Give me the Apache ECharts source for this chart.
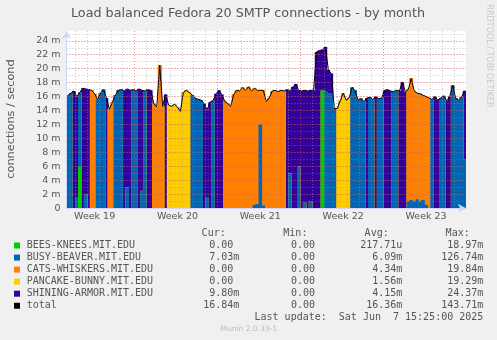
<!DOCTYPE html>
<html><head><meta charset="utf-8">
<script src="https://cdn.jsdelivr.net/npm/echarts@6/dist/echarts.min.js"></script>
<style>html,body{margin:0;padding:0;background:#f0f0f0}#c{width:497px;height:340px}</style>
</head><body><div id="c"></div>
<script>
// ---- data (6-hour samples, starting Mon 2025-05-05 06:00 UTC) ----
const weekLabels = ['Week 19','Week 20','Week 21','Week 22','Week 23'];
const hosts = ['BEES-KNEES.MIT.EDU','BUSY-BEAVER.MIT.EDU','CATS-WHISKERS.MIT.EDU','PANCAKE-BUNNY.MIT.EDU','SHINING-ARMOR.MIT.EDU'];
const beesKnees = [
0,0,0,0,6.0,0,0,0,0,0,
0,0,0,0,0,0,0,0,0,0,
0,0,0,0,0,0,0,0,0,0,
0,0,0,0,0,0,0,0,0,0,
0,0,0,0,0,0,0,0,0,0,
0,0,0,0,0,0,0,0,0,0,
0,0,0,0,0,0,0,0,0,0,
0,0,0,0,0,0,0,0,0,0,
0,0,0,0,0,0,16.9,0,0,0,
0,0,0,0,0,0,0,0,0,0,
0,0,0,0,0,0,0,0,0,0,
0,0,0,0,0,0,0,0,0,0,
0,0,0,0,0,0,0,0,0,0,
0,0,0,0,0];
const busyBeaver = [
16.2,16.5,0,1.5,10.6,0,2.0,0,0,0,
15.6,16.5,17.0,0,0,0,16.2,16.9,17.0,0,
3.0,0,17.0,16.8,0,2.5,16.8,0,0,0,
0,0,0,0,0,0,0,0,0,0,
0,0,16.2,15.8,15.6,15.5,0,1.5,0,15.4,
0,0,0,0,0,0,0,0,0,0,
0,0,0,0.5,0.6,12.0,0.4,0,0,0,
0,0,0,0,0,5.0,0,0,6.0,0,
0.8,0,1.0,0,0,0,0,16.7,16.5,16.4,
14.3,0,0,0,0,0,17.3,16.9,15.5,15.7,
15.3,0,15.9,15.6,0,15.7,15.8,0,0,0,
16.7,16.9,0,0,0,1.0,1.2,1.0,1.3,1.0,
1.2,0.5,0,15.6,0,0,15.8,16.1,0,0,
17.6,15.8,15.5,15.9,7.03];
const catsWhiskers = [
0,0,0,0,0,0,0,0,16.9,16.4,
0,0,0,0,14.2,15.2,0,0,0,0,
0,0,0,0,0,0,0,0,0,15.0,
14.5,20.5,14.6,0,0,0,0,0,0,0,
0,0,0,0,0,0,0,0,0,0,
0,0,0,15.3,15.0,14.6,16.3,16.9,16.8,17.3,
16.9,17.4,16.8,16.7,16.3,4.9,16.5,15.3,15.8,16.8,
16.9,16.7,16.9,16.8,0,0,0,0,0,0,
0,0,0,0,0,0,0,0,0,0,
0,0,0,0,0,0,0,0,0,0,
0,0,0,0,0,0,0,0,0,0,
0,0,0,0,0,16.0,17.4,15.8,15.2,15.4,
15.0,15.5,15.8,0,0,0,0,0,0,0,
0,0,0,0,0];
const pancakeBunny = [
0,0,0,0,0,0,0,0,0,0,
0,0,0,0,0,0,0,0,0,0,
0,0,0,0,0,0,0,0,0,0,
0,0,0,0,14.8,14.6,14.9,14.5,13.9,16.6,
16.9,16.6,0,0,0,0,0,0,0,0,
0,0,0,0,0,0,0,0,0,0,
0,0,0,0,0,0,0,0,0,0,
0,0,0,0,0,0,0,0,0,0,
0,0,0,0,0,0,0,0,0,0,
0,14.3,15.4,16.5,15.5,15.8,0,0,0,0,
0,0,0,0,0,0,0,0,0,0,
0,0,0,0,0,0,0,0,0,0,
0,0,0,0,0,0,0,0,0,0,
0,0,0,0,0];
const shiningArmor = [
0,0,16.8,14.5,0,17.2,15.1,17.0,0,0,
0,0,0,15.8,0,0,0,0,0,16.8,
14.1,16.9,0,0,17.1,14.4,0,17.0,16.9,0,
0,0,0,16.3,0,0,0,0,0,0,
0,0,0,0,0,0,15.0,12.6,15.2,0,
16.4,16.9,16.3,0,0,0,0,0,0,0,
0,0,0,0,0,0,0,0,0,0,
0,0,0,0,17.0,11.8,17.4,17.8,10.9,16.8,
16.1,16.8,15.9,16.9,22.4,22.6,5.8,6.4,3.3,2.9,
0,0,0,0,0,0,0,0,0,0,
0,15.8,0,0,16.0,0,0,16.9,17.0,16.8,
0,0,16.8,18.1,16.7,0,0,0,0,0,
0,0,0,0,16.0,15.5,0,0,15.4,16.0,
0,0,0,0,9.80];
const legendNames = hosts.concat(['total']);
const curVals = ['0.00','7.03m','0.00','0.00','9.80m','16.84m'];
const minVals = ['0.00','0.00','0.00','0.00','0.00','0.00'];
const avgVals = ['217.71u','6.09m','4.34m','1.56m','4.15m','16.36m'];
const maxVals = ['18.97m','126.74m','19.84m','19.29m','24.37m','143.71m'];
const yTicks = [0,2,4,6,8,10,12,14,16,18,20,22,24];

// ---- styles ----
const hostColors = ['#00CC00','#0066B3','#FF8000','#FFCC00','#330099'];
const fontColor = '#555';
const axisColor = '#CFD6F8';
const gridGray = 'rgba(150,150,150,0.5)';
const gridRed = 'rgba(230,70,70,0.6)';

const seriesData = [beesKnees, busyBeaver, catsWhiskers, pancakeBunny, shiningArmor];
const N = beesKnees.length;
// cumulative stack tops: layer k spans 0 .. sum of hosts 0..k; upper layers painted first
const cumul = seriesData.map((_, k) => beesKnees.map((__, i) => {
  let s = 0; for (let j = 0; j <= k; j++) s += seriesData[j][i]; return +s.toFixed(2);
}));
const total = cumul[cumul.length - 1];
const start = Date.UTC(2025, 4, 5, 6, 0, 0);
const times = [];
for (let i = 0; i < N; i++) times.push(start + i * 6 * 3600 * 1000);
const cats = times.map(t => new Date(t).toISOString());
const isDayStart = i => i < N && new Date(times[i]).getUTCHours() === 0;
const isWeekStart = i => isDayStart(i) && new Date(times[i]).getUTCDay() === 0;
const isMidWeek = i => { const d = new Date(times[i]); return d.getUTCDay() === 3 && d.getUTCHours() === 12; };
const labelAt = {};
let wk = 0;
for (let i = 0; i < N; i++) if (isMidWeek(i)) labelAt[i] = weekLabels[wk++];

const chart = echarts.init(document.getElementById('c'), null, {renderer: 'canvas', width: 497, height: 340});

const graphics = [];
graphics.push({type: 'text', x: 248, y: 14, style: {text: 'Load balanced Fedora 20 SMTP connections - by month', align: 'center', verticalAlign: 'middle', font: '12.75px "DejaVu Sans"', fill: fontColor}});
graphics.push({type: 'text', x: 11, y: 119, rotation: Math.PI / 2, style: {text: 'connections / second', align: 'center', verticalAlign: 'middle', font: '11.3px "DejaVu Sans"', fill: fontColor}});
graphics.push({type: 'text', x: 489, y: 56, rotation: -Math.PI / 2, style: {text: 'RRDTOOL / TOBI OETIKER', align: 'center', verticalAlign: 'middle', font: '8px "DejaVu Sans"', fill: '#c8c8c8'}});

const mono = '10px "DejaVu Sans Mono"';
const headY = 233.5;
const colEnd = [233.3, 315, 396.3, 477.3];
['Cur:', 'Min:', 'Avg:', 'Max:'].forEach((h, k) => {
  graphics.push({type: 'text', x: colEnd[k] - 7.6, y: headY, style: {text: h, align: 'right', verticalAlign: 'middle', font: mono, fill: fontColor}});
});
const legendColors = hostColors.concat(['#000000']);
const cols = [curVals, minVals, avgVals, maxVals];
legendNames.forEach((name, r) => {
  const y = 245.5 + r * 12.05;
  graphics.push({type: 'rect', shape: {x: 14, y: y - 3, width: 6, height: 6}, style: {fill: legendColors[r]}});
  graphics.push({type: 'text', x: 26.7, y: y, style: {text: name, align: 'left', verticalAlign: 'middle', font: mono, fill: fontColor}});
  cols.forEach((col, k) => {
    const s = col[r];
    const hasUnit = /[a-z]$/i.test(s);
    const num = hasUnit ? s.slice(0, -1) : s;
    graphics.push({type: 'text', x: colEnd[k], y: y, style: {text: num, align: 'right', verticalAlign: 'middle', font: mono, fill: fontColor}});
    if (hasUnit) graphics.push({type: 'text', x: colEnd[k], y: y, style: {text: s.slice(-1), align: 'left', verticalAlign: 'middle', font: mono, fill: fontColor}});
  });
});
graphics.push({type: 'text', x: 483.3, y: 317.7, style: {text: 'Last update:  Sat Jun  7 15:25:00 2025', align: 'right', verticalAlign: 'middle', font: mono, fill: fontColor}});
graphics.push({type: 'text', x: 248.7, y: 329.5, style: {text: 'Munin 2.0.33-1', align: 'center', verticalAlign: 'middle', font: '7.5px "DejaVu Sans"', fill: '#bbbbbb'}});

const layerSeries = [];
for (let k = hosts.length - 1; k >= 0; k--) {
  layerSeries.push({
    name: hosts[k], type: 'bar', data: cumul[k], xAxisIndex: 0, yAxisIndex: 0,
    barWidth: 3.6, barGap: '-100%', silent: true, z: 2,
    itemStyle: {color: hostColors[k], borderWidth: 0}
  });
}

const option = {
  backgroundColor: '#f0f0f0',
  animation: false,
  grid: {left: 66.5, right: 31, top: 31, bottom: 131.7, show: true, backgroundColor: '#ffffff', borderWidth: 0},
  xAxis: [
    {type: 'category', data: cats, boundaryGap: true, z: 5,
      axisLine: {show: true, lineStyle: {color: axisColor, width: 1}, symbol: ['none', 'arrow'], symbolSize: [7, 8]},
      axisTick: {show: false},
      axisLabel: {interval: (i) => i in labelAt, formatter: (v, i) => labelAt[i] || '', color: fontColor, fontFamily: 'DejaVu Sans', fontSize: 9.5, margin: 3},
      splitLine: {show: true, showMaxLine: false, interval: (i) => isDayStart(i) && !isWeekStart(i), lineStyle: {color: gridGray, type: [1, 2], width: 1}}},
    {type: 'category', data: cats, boundaryGap: true, z: 6, position: 'bottom',
      axisLine: {show: false}, axisTick: {show: false}, axisLabel: {show: false},
      splitLine: {show: true, showMaxLine: false, interval: (i) => isWeekStart(i), lineStyle: {color: gridRed, type: [1, 2], width: 1}}}
  ],
  yAxis: [
    {type: 'value', min: 0, max: 25.4, interval: 1, z: 5,
      axisLine: {show: false}, axisTick: {show: false}, axisLabel: {show: false},
      splitLine: {show: true, showMinLine: false, showMaxLine: false, lineStyle: {color: gridGray, type: [1, 2], width: 1}}},
    {type: 'value', min: 0, max: 25.4, interval: 2, position: 'left', z: 6,
      axisLine: {show: true, lineStyle: {color: axisColor, width: 1}, symbol: ['none', 'arrow'], symbolSize: [7, 8]},
      axisTick: {show: false},
      axisLabel: {showMaxLabel: false, formatter: v => (yTicks.indexOf(v) < 0 ? '' : (v === 0 ? '0' : v + ' m')), color: fontColor, fontFamily: 'DejaVu Sans', fontSize: 9.5, margin: 6},
      splitLine: {show: true, showMinLine: false, showMaxLine: false, lineStyle: {color: gridRed, type: [1, 2], width: 1}}}
  ],
  series: layerSeries.concat([{
    name: 'total', type: 'line', data: total, xAxisIndex: 0, yAxisIndex: 0, showSymbol: false, symbol: 'none', silent: true,
    lineStyle: {color: '#000', width: 1}, itemStyle: {color: '#000'}, z: 3
  }]),
  graphic: graphics
};
chart.setOption(option);
</script>
</body></html>
